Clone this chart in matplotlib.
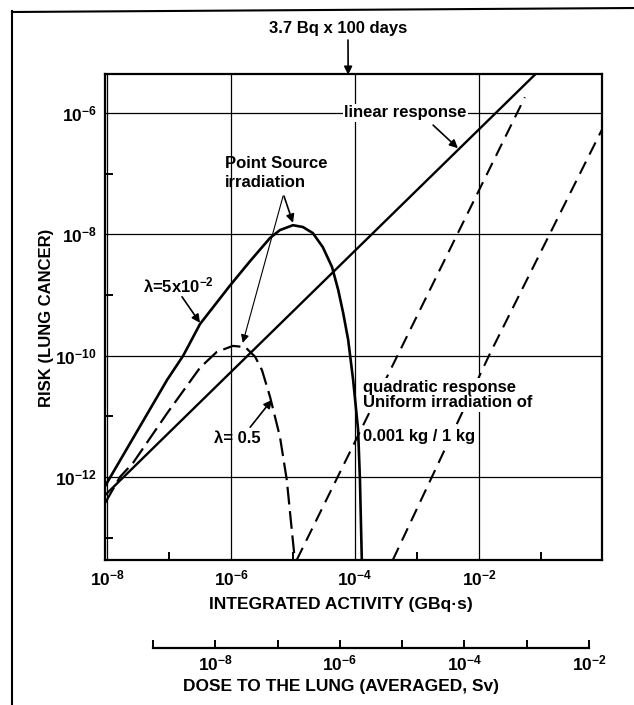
import matplotlib
matplotlib.use("Agg")
import numpy as np
import matplotlib.pyplot as plt
from matplotlib.lines import Line2D

plt.rcParams['font.family'] = ['Liberation Sans', 'DejaVu Sans']
plt.rcParams['font.weight'] = 'bold'
plt.rcParams['mathtext.default'] = 'regular'

# Valores (log10 da atividade em GBq.s e log10 do risco)
lin_log_act = [-8.03, -1.00]
lin_log_risk = [-12.30, -5.27]

ps05_log_act = [-8.03, -7.03, -6.77, -6.50, -6.02, -5.69, -5.37, -5.21, -5.00, -4.84,
                -4.68, -4.52, -4.37, -4.27, -4.19, -4.11, -4.03, -3.95, -3.92, -3.89]
ps05_log_risk = [-12.15, -10.40, -10.00, -9.48, -8.85, -8.44, -8.06, -7.93, -7.85, -7.88,
                 -7.98, -8.21, -8.54, -8.92, -9.30, -9.74, -10.40, -11.22, -12.05, -13.37]

ps5_log_act = [-8.03, -7.79, -7.58, -7.03, -6.50, -6.23, -5.97, -5.77, -5.61,
               -5.50, -5.37, -5.21, -5.10, -5.02, -4.97]
ps5_log_risk = [-12.43, -12.00, -11.77, -10.95, -10.20, -9.94, -9.84, -9.86, -10.02,
                -10.24, -10.68, -11.34, -12.05, -12.87, -13.37]

quad_small_log_act = [-4.94, -3.31, -1.26]
quad_small_log_risk = [-13.37, -9.99, -5.74]

quad_big_log_act = [-3.39, -1.82, -0.02]
quad_big_log_risk = [-13.37, -9.96, -6.28]

x_major = [1e-8, 1e-6, 1e-4, 1e-2]
x_minor = [1e-7, 1e-5, 1e-3, 1e-1]
y_major = [1e-12, 1e-10, 1e-8, 1e-6]
y_minor = [1e-13, 1e-11, 1e-9, 1e-7]
dose_ticks = [1e-9, 1e-8, 1e-7, 1e-6, 1e-5, 1e-4, 1e-3, 1e-2]
dose_labels = ['', '$10^{-8}$', '', '$10^{-6}$', '', '$10^{-4}$', '', '$10^{-2}$']


def p10(v):
    return 10.0 ** np.array(v)


fig = plt.figure(figsize=(6.34, 7.05), dpi=100)
W, H = 634, 705
ax = fig.add_axes([105 / W, 145 / H, 497 / W, 486 / H])
ax.set_xscale('log')
ax.set_yscale('log')
ax.set_xlim(10 ** -8.032, 10 ** -0.016)
ax.set_ylim(10 ** -13.37, 10 ** -5.357)

ax.set_xticks(x_major)
ax.set_xticks(x_minor, minor=True)
ax.set_yticks(y_major)
ax.set_yticks(y_minor, minor=True)
ax.set_xticklabels(['$10^{-8}$', '$10^{-6}$', '$10^{-4}$', '$10^{-2}$'])
ax.set_yticklabels(['$10^{-12}$', '$10^{-10}$', '$10^{-8}$', '$10^{-6}$'])
ax.xaxis.set_minor_formatter(plt.NullFormatter())
ax.yaxis.set_minor_formatter(plt.NullFormatter())
ax.tick_params(which='major', length=0, labelsize=12.5, pad=6)
ax.tick_params(which='minor', direction='in', length=6, width=1.4)
ax.grid(True, which='major', color='black', lw=0.9)
for s in ax.spines.values():
    s.set_linewidth(1.6)

ax.plot(p10(lin_log_act), p10(lin_log_risk), color='black', lw=1.7)
ax.plot(p10(ps05_log_act), p10(ps05_log_risk), color='black', lw=1.9)
ax.plot(p10(ps5_log_act), p10(ps5_log_risk), color='black', lw=1.6, dashes=(8, 3))
ax.plot(p10(quad_small_log_act), p10(quad_small_log_risk), color='black', lw=1.5, dashes=(6.5, 3.8))
ax.plot(p10(quad_big_log_act), p10(quad_big_log_risk), color='black', lw=1.5, dashes=(6.5, 3.8))

fs = 12
arrow = dict(arrowstyle='-|>', color='black', lw=1.2, mutation_scale=12, shrinkA=0, shrinkB=0)

ax.text(10 ** -3.19, 1e-6, 'linear response', ha='center', va='center', fontsize=fs,
        bbox=dict(facecolor='white', edgecolor='none', pad=1))
ax.annotate('', xy=(10 ** -2.34, 10 ** -6.58), xytext=(10 ** -2.74, 10 ** -6.20), arrowprops=arrow)

ax.text(10 ** -6.10, 10 ** -6.99, 'Point Source\nirradiation', ha='left', va='center',
        fontsize=fs, linespacing=1.3)
ax.annotate('', xy=(10 ** -5.0, 10 ** -7.81), xytext=(10 ** -5.145, 10 ** -7.37), arrowprops=arrow)
ax.annotate('', xy=(10 ** -5.81, 10 ** -9.79), xytext=(10 ** -5.16, 10 ** -7.37),
            arrowprops=dict(arrowstyle='-|>', color='black', lw=0.8, mutation_scale=12,
                            shrinkA=0, shrinkB=0))

ax.text(10 ** -6.84, 10 ** -8.84, 'λ=5x10$^{-2}$', ha='center', va='center', fontsize=fs)
ax.annotate('', xy=(10 ** -6.50, 10 ** -9.46), xytext=(10 ** -6.79, 10 ** -9.03), arrowprops=arrow)

ax.text(10 ** -5.90, 10 ** -11.36, 'λ= 0.5', ha='center', va='center', fontsize=fs)
ax.annotate('', xy=(10 ** -5.34, 10 ** -10.73), xytext=(10 ** -5.69, 10 ** -11.18), arrowprops=arrow)

ax.text(10 ** -3.87, 10 ** -10.65, 'quadratic response\nUniform irradiation of', ha='left',
        va='center', fontsize=fs, linespacing=1.05,
        bbox=dict(facecolor='white', edgecolor='none', pad=1.5))
ax.text(10 ** -3.87, 10 ** -11.34, '0.001 kg / 1 kg', ha='left', va='center', fontsize=fs,
        bbox=dict(facecolor='white', edgecolor='none', pad=1.5))

# seta do topo
ax.annotate('', xy=(10 ** -4.11, 10 ** -5.37), xycoords='data',
            xytext=(348 / W, 1 - 40 / H), textcoords='figure fraction', arrowprops=arrow)
fig.text(338 / W, 1 - 28 / H, '3.7 Bq x 100 days', ha='center', va='center', fontsize=fs)

fig.text(47 / W, 1 - 318 / H, 'RISK (LUNG CANCER)', rotation=90, ha='center', va='center',
         fontsize=fs)
fig.text(341 / W, 1 - 605 / H, 'INTEGRATED ACTIVITY (GBq·s)', ha='center', va='center',
         fontsize=12.5)

# eixo da dose
ax2 = fig.add_axes([153 / W, (H - 648) / H, 436 / W, 0.0001])
ax2.set_xscale('log')
ax2.set_xlim(1e-9, 1e-2)
ax2.set_yticks([])
for side in ['left', 'right', 'top']:
    ax2.spines[side].set_visible(False)
ax2.spines['bottom'].set_linewidth(1.6)
ax2.set_xticks(dose_ticks)
ax2.set_xticklabels(dose_labels)
ax2.xaxis.set_minor_locator(plt.NullLocator())
ax2.tick_params(axis='x', direction='in', length=6, width=1.4, labelsize=12.5, pad=4)
ax2.patch.set_visible(False)
fig.text(341 / W, 1 - 687 / H, 'DOSE TO THE LUNG (AVERAGED, Sv)', ha='center', va='center',
         fontsize=12.5)

# moldura
fig.add_artist(Line2D([12 / W, 12 / W], [0, 1 - 11 / H], transform=fig.transFigure,
                      color='black', lw=1.5))
fig.add_artist(Line2D([12 / W, 1], [1 - 12 / H, 1 - 8 / H], transform=fig.transFigure,
                      color='black', lw=1.5))

fig.savefig('out.png', dpi=100)
